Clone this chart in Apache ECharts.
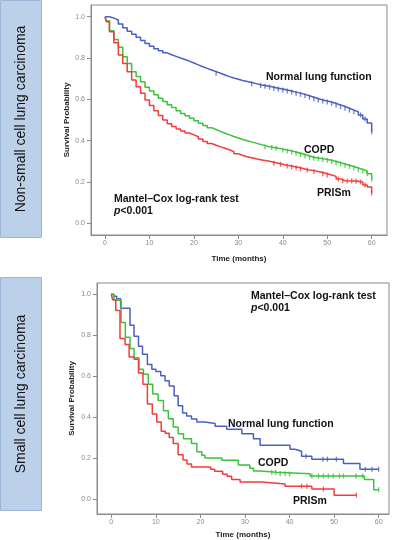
<!DOCTYPE html>
<html><head><meta charset="utf-8">
<script src="https://cdn.jsdelivr.net/npm/echarts@6/dist/echarts.min.js"></script>
<style>html,body{margin:0;padding:0;background:#fff}#c{width:394px;height:540px}</style>
</head><body><div id="c"></div>
<script>
// ---------- DATA ----------
const xTickValues = [0, 10, 20, 30, 40, 50, 60];
const yTickValues = [0, 0.2, 0.4, 0.6, 0.8, 1.0];
const groupNames = ['Normal lung function', 'COPD', 'PRISm'];
const panelTitles = ['Non-small cell lung carcinoma', 'Small cell lung carcinoma'];

// Non-small cell lung carcinoma (monthly step estimates)
const nsclcMonths = [0,0.3,1,2,3,4,5,6,7,8,9,10,11,12,13,14,15,16,17,18,19,20,21,22,23,24,25,26,27,28,29,30,31,32,33,34,35,36,37,38,39,40,41,42,43,44,45,46,47,48,49,50,51,52,53,54,55,56,57,58,59,60];
const nsclcNormal = [1,1,0.993,0.984,0.965,0.947,0.93,0.915,0.9,0.885,0.87,0.857,0.845,0.835,0.825,0.816,0.808,0.8,0.793,0.785,0.776,0.767,0.758,0.75,0.742,0.734,0.726,0.718,0.71,0.703,0.697,0.691,0.686,0.681,0.676,0.671,0.667,0.663,0.659,0.654,0.65,0.645,0.64,0.635,0.63,0.624,0.617,0.61,0.603,0.597,0.592,0.587,0.58,0.573,0.565,0.557,0.548,0.54,0.524,0.505,0.485,0.443];
const nsclcCopd = [1,0.98,0.932,0.89,0.852,0.806,0.774,0.734,0.71,0.685,0.658,0.64,0.622,0.605,0.589,0.574,0.56,0.545,0.532,0.52,0.508,0.496,0.484,0.473,0.463,0.454,0.445,0.436,0.428,0.42,0.413,0.406,0.4,0.394,0.388,0.382,0.376,0.371,0.367,0.363,0.359,0.355,0.35,0.345,0.339,0.333,0.326,0.32,0.316,0.313,0.309,0.305,0.299,0.293,0.287,0.281,0.275,0.268,0.261,0.253,0.24,0.213];
const nsclcPrism = [1,0.976,0.927,0.874,0.815,0.774,0.734,0.694,0.661,0.629,0.597,0.57,0.545,0.522,0.5,0.482,0.468,0.457,0.447,0.437,0.428,0.419,0.408,0.396,0.386,0.378,0.37,0.363,0.356,0.347,0.337,0.328,0.322,0.317,0.312,0.308,0.304,0.3,0.296,0.291,0.286,0.281,0.277,0.273,0.269,0.263,0.258,0.255,0.251,0.246,0.24,0.234,0.227,0.215,0.206,0.205,0.205,0.204,0.2,0.186,0.176,0.147];
const nsclcCensorNormal = [25,33,35,36,37,38,39,40,41,42,43,44,45,46,47,48,49,50,51,52,53,54,55,56,57.5,58.5,60];
const nsclcCensorCopd = [36,37.5,38.5,40,41,42,43,44,45,46,47,48,49,50,51,52,53,54,55,56,57,58,59,60];
const nsclcCensorPrism = [38,39.5,41,42,43,44,45.5,47,49,50,52.5,53.5,54.5,55.5,56.5,57.5,58.5,60];

// Small cell lung carcinoma ([month, survival] at each step)
const sclcNormal = [[0,1],[0.5,0.99],[1.2,0.978],[2.1,0.932],[4.2,0.848],[5.1,0.795],[6.1,0.746],[7.0,0.706],[8.1,0.657],[9.1,0.633],[10.0,0.622],[11.1,0.601],[12.05,0.577],[13.0,0.552],[14.1,0.504],[15.0,0.455],[16.0,0.42],[16.9,0.405],[18.0,0.39],[19.2,0.375],[21.0,0.368],[23.3,0.355],[25.9,0.34],[29.3,0.318],[31.9,0.294],[33.4,0.262],[40.1,0.242],[41.2,0.233],[42.7,0.208],[45,0.194],[52.1,0.173],[55.8,0.144],[60,0.144]];
const sclcCopd = [[0,1],[0.6,0.97],[2.2,0.862],[3.15,0.79],[4.2,0.735],[5.1,0.69],[6.2,0.633],[7.2,0.609],[8.3,0.56],[9.3,0.512],[10.5,0.48],[11.7,0.431],[12.8,0.391],[13.9,0.351],[15.0,0.318],[16.2,0.294],[18.0,0.27],[19.2,0.23],[20.3,0.213],[21.0,0.2],[24.8,0.189],[28.5,0.165],[31.1,0.149],[31.9,0.136],[33.4,0.13],[37,0.122],[44.6,0.112],[56.8,0.095],[58.9,0.045],[60,0.045]];
const sclcPrism = [[0,1],[0.3,0.973],[1.0,0.921],[1.95,0.784],[3.1,0.754],[4.0,0.693],[5.1,0.682],[6.1,0.615],[7.1,0.56],[8.1,0.464],[9.2,0.415],[10.2,0.375],[11.2,0.33],[12.1,0.32],[13.0,0.3],[13.9,0.27],[15.0,0.215],[16.1,0.19],[17.0,0.17],[18.0,0.155],[22.3,0.145],[23.2,0.135],[25.0,0.12],[26.0,0.11],[27.0,0.095],[28.9,0.082],[33.7,0.073],[39,0.062],[45,0.048],[50,0.018],[55,0.018]];
const sclcCensorNormal = [43.7,47.5,48.5,50.5,57,58.5,60];
const sclcCensorCopd = [36,36.9,37.9,39,40,45,46.5,47.6,48.7,49.8,51.2,52.1,54.9,56.4,60];
const sclcCensorPrism = [42.7,43.9,47.6,55];

// ---------- STYLE ----------
const colors = ['#4a5fc3', '#3cc23c', '#f23b3b'];
const FF = '"Liberation Sans", Arial, sans-serif';

function zip(xs, ys) { return xs.map((x, i) => [x, ys[i]]); }
function stepAt(pairs, t) {
  let v = pairs[0][1];
  for (const p of pairs) { if (p[0] <= t + 1e-9) v = p[1]; }
  return v;
}
function censorPts(pairs, times) { return times.map(t => [t, stepAt(pairs, t)]); }

const panels = [
  { curves: [zip(nsclcMonths, nsclcNormal), zip(nsclcMonths, nsclcCopd), zip(nsclcMonths, nsclcPrism)],
    censors: [nsclcCensorNormal, nsclcCensorCopd, nsclcCensorPrism] },
  { curves: [sclcNormal, sclcCopd, sclcPrism],
    censors: [sclcCensorNormal, sclcCensorCopd, sclcCensorPrism] }
];

const grids = [
  { left: 91, top: 5, width: 296, height: 230, xMin: -3.15, xMax: 63.45, yMin: -0.0566, yMax: 1.0566, xGap: 20, yGap: 20 },
  { left: 97, top: 283, width: 292, height: 233, xMin: -3.21, xMax: 62.32, yMin: -0.0741, yMax: 1.0548, xGap: 17, yGap: 21 }
];

const option = {
  animation: false,
  backgroundColor: '#fff',
  grid: grids.map(g => ({ left: g.left, top: g.top, width: g.width, height: g.height, show: true, borderColor: '#8a8a8a', borderWidth: 1, containLabel: false })),
  xAxis: grids.map((g, i) => ({
    type: 'value', gridIndex: i, min: g.xMin, max: g.xMax,
    name: 'Time (months)', nameLocation: 'middle', nameGap: g.xGap, nameMoveOverlap: false,
    nameTextStyle: { fontSize: 8, fontWeight: 'bold', color: '#222', fontFamily: FF },
    axisLine: { show: true, onZero: false, lineStyle: { color: '#8a8a8a', width: 1 } },
    axisTick: { show: true, length: 4, customValues: xTickValues, lineStyle: { color: '#8a8a8a' } },
    axisLabel: { customValues: xTickValues, fontSize: 7, color: '#8a8a8a', margin: 5, fontFamily: FF },
    splitLine: { show: false }
  })),
  yAxis: grids.map((g, i) => ({
    type: 'value', gridIndex: i, min: g.yMin, max: g.yMax,
    name: 'Survival Probability', nameLocation: 'middle', nameGap: g.yGap, nameRotate: 90, nameMoveOverlap: false,
    nameTextStyle: { fontSize: 8, fontWeight: 'bold', color: '#222', fontFamily: FF },
    axisLine: { show: true, onZero: false, lineStyle: { color: '#8a8a8a', width: 1 } },
    axisTick: { show: true, length: 4, customValues: yTickValues, lineStyle: { color: '#8a8a8a' } },
    axisLabel: { customValues: yTickValues, fontSize: 7, color: '#8a8a8a', margin: 6, fontFamily: FF, formatter: v => v.toFixed(1) },
    splitLine: { show: false }
  })),
  series: [],
  graphic: []
};

panels.forEach((p, pi) => {
  p.curves.forEach((c, k) => {
    option.series.push({
      name: groupNames[k], type: 'line', step: 'end', xAxisIndex: pi, yAxisIndex: pi,
      data: c, showSymbol: false, symbol: 'none', z: 3 + k,
      lineStyle: { color: colors[k], width: 1.5 }
    });
    option.series.push({
      name: groupNames[k] + ' censored', type: 'scatter', xAxisIndex: pi, yAxisIndex: pi,
      data: censorPts(c, p.censors[k]), symbol: 'rect', symbolSize: [1.3, 5], z: 6,
      itemStyle: { color: colors[k] }
    });
  });
});

function txt(x, y, text, size, extra) {
  return Object.assign({ type: 'text', z: 100, style: Object.assign({ x: x, y: y, text: text, fill: '#111', font: 'bold ' + size + 'px ' + FF, textAlign: 'left', textVerticalAlign: 'middle' }, extra || {}) });
}
const pRich = { i: { fontStyle: 'italic', fontWeight: 'bold', fontSize: 10.5, fontFamily: FF, fill: '#111', color: '#111' },
                b: { fontWeight: 'bold', fontSize: 10.5, fontFamily: FF, fill: '#111', color: '#111' } };

option.graphic = [
  { type: 'rect', shape: { x: 0.5, y: 0.5, width: 41, height: 237 }, style: { fill: '#bdd0e9', stroke: '#9cb6da', lineWidth: 1 } },
  { type: 'rect', shape: { x: 0.5, y: 277.5, width: 41, height: 233 }, style: { fill: '#bdd0e9', stroke: '#9cb6da', lineWidth: 1 } },
  { type: 'text', x: 21, y: 119, rotation: Math.PI / 2, style: { text: panelTitles[0], fill: '#111', font: '14px ' + FF, textAlign: 'center', textVerticalAlign: 'middle' } },
  { type: 'text', x: 21, y: 394, rotation: Math.PI / 2, style: { text: panelTitles[1], fill: '#111', font: '14px ' + FF, textAlign: 'center', textVerticalAlign: 'middle' } },
  txt(266, 77, groupNames[0], 10.5),
  txt(304, 150, groupNames[1], 10.5),
  txt(317, 193, groupNames[2], 10.5),
  txt(114, 199, 'Mantel\u2013Cox log-rank test', 10.5),
  { type: 'text', z: 100, style: { x: 114, y: 211, text: '{i|p}{b|<0.001}', rich: pRich, textAlign: 'left', textVerticalAlign: 'middle', fill: '#111' } },
  txt(251, 296, 'Mantel\u2013Cox log-rank test', 10.5),
  { type: 'text', z: 100, style: { x: 251, y: 308, text: '{i|p}{b|<0.001}', rich: pRich, textAlign: 'left', textVerticalAlign: 'middle', fill: '#111' } },
  txt(228, 424, groupNames[0], 10.5),
  txt(258, 463, groupNames[1], 10.5),
  txt(293, 501, groupNames[2], 10.5)
];

const chart = echarts.init(document.getElementById('c'), null, { renderer: 'canvas', width: 394, height: 540 });
chart.setOption(option);
</script></body></html>
